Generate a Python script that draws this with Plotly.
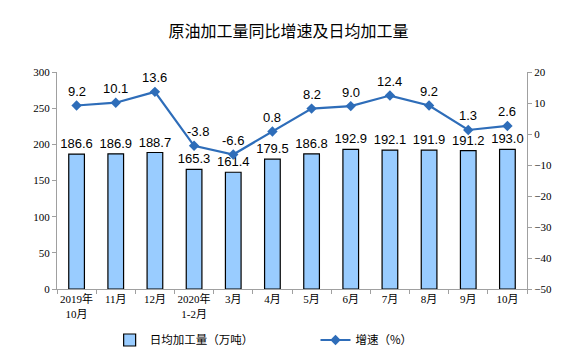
import plotly.graph_objects as go

categories = ["2019年<br>10月", "11月", "12月", "2020年<br>1-2月", "3月", "4月", "5月", "6月", "7月", "8月", "9月", "10月"]
daily_output = [186.6, 186.9, 188.7, 165.3, 161.4, 179.5, 186.8, 192.9, 192.1, 191.9, 191.2, 193.0]
growth = [9.2, 10.1, 13.6, -3.8, -6.6, 0.8, 8.2, 9.0, 12.4, 9.2, 1.3, 2.6]

label_font = dict(family="Liberation Sans, Arial, sans-serif", size=13, color="#000000")
tick_font = dict(family="Liberation Serif, Times New Roman, serif", size=11, color="#000000")
legend_font = dict(family="Noto Sans CJK SC, sans-serif", size=11.5, color="#000000")

fig = go.Figure()
fig.add_trace(go.Bar(
    x=categories, y=daily_output, name="日均加工量（万吨）",
    marker=dict(color="#99CCFF", line=dict(color="#000000", width=1.2)),
    width=0.4,
    text=[f"{v:.1f}" for v in daily_output], textposition="outside",
    textfont=label_font, outsidetextfont=label_font, constraintext="none",
    cliponaxis=False, yaxis="y", legend="legend",
))
fig.add_trace(go.Scatter(
    x=categories, y=growth, name="增速（%）", mode="lines+markers",
    line=dict(color="#2E6DB9", width=2.2),
    marker=dict(symbol="diamond", size=8, color="#2E6DB9"),
    cliponaxis=False, yaxis="y2", legend="legend2",
))

annotations = []
for i, (c, v) in enumerate(zip(categories, growth)):
    annotations.append(dict(
        x=c, y=v, xref="x", yref="y2", text=f"{v:.1f}", showarrow=False,
        yshift=14, xshift=4 if v < 0 and i == 3 else 0, font=label_font,
    ))

fig.update_layout(
    width=561, height=358,
    margin=dict(l=49, r=42, t=64, b=69),
    paper_bgcolor="white", plot_bgcolor="white",
    title=dict(text="原油加工量同比增速及日均加工量", x=0.5, xanchor="center", y=0.935, yanchor="middle",
               font=dict(family="Noto Sans CJK SC, sans-serif", size=16, color="#000000")),
    showlegend=True,
    legend=dict(orientation="h", x=0.112, xanchor="left", y=-0.235, yanchor="middle",
                font=legend_font, itemwidth=30, bgcolor="rgba(0,0,0,0)"),
    legend2=dict(orientation="h", x=0.55, xanchor="left", y=-0.235, yanchor="middle",
                 font=legend_font, itemwidth=30, bgcolor="rgba(0,0,0,0)"),
    annotations=annotations,
    xaxis=dict(type="category", showline=True, linecolor="#A0A0A0", linewidth=1,
               ticks="outside", tickson="boundaries", ticklen=4, tickcolor="#A0A0A0",
               tickangle=0,
               tickfont=dict(family="Liberation Serif, Noto Sans CJK SC, serif", size=11, color="#000000"),
               showgrid=False, range=[-0.5, 11.5]),
    yaxis=dict(range=[0, 300], dtick=50, showline=True, linecolor="#A0A0A0", linewidth=1,
               ticks="outside", ticklen=4, tickcolor="#A0A0A0", showgrid=False,
               tickfont=tick_font, zeroline=False),
    yaxis2=dict(range=[-50, 20], dtick=10, overlaying="y", side="right", showline=True,
                linecolor="#A0A0A0", linewidth=1, ticks="outside", ticklen=4, tickcolor="#A0A0A0",
                showgrid=False, tickfont=tick_font, zeroline=False),
)

fig.write_html("out.html")
